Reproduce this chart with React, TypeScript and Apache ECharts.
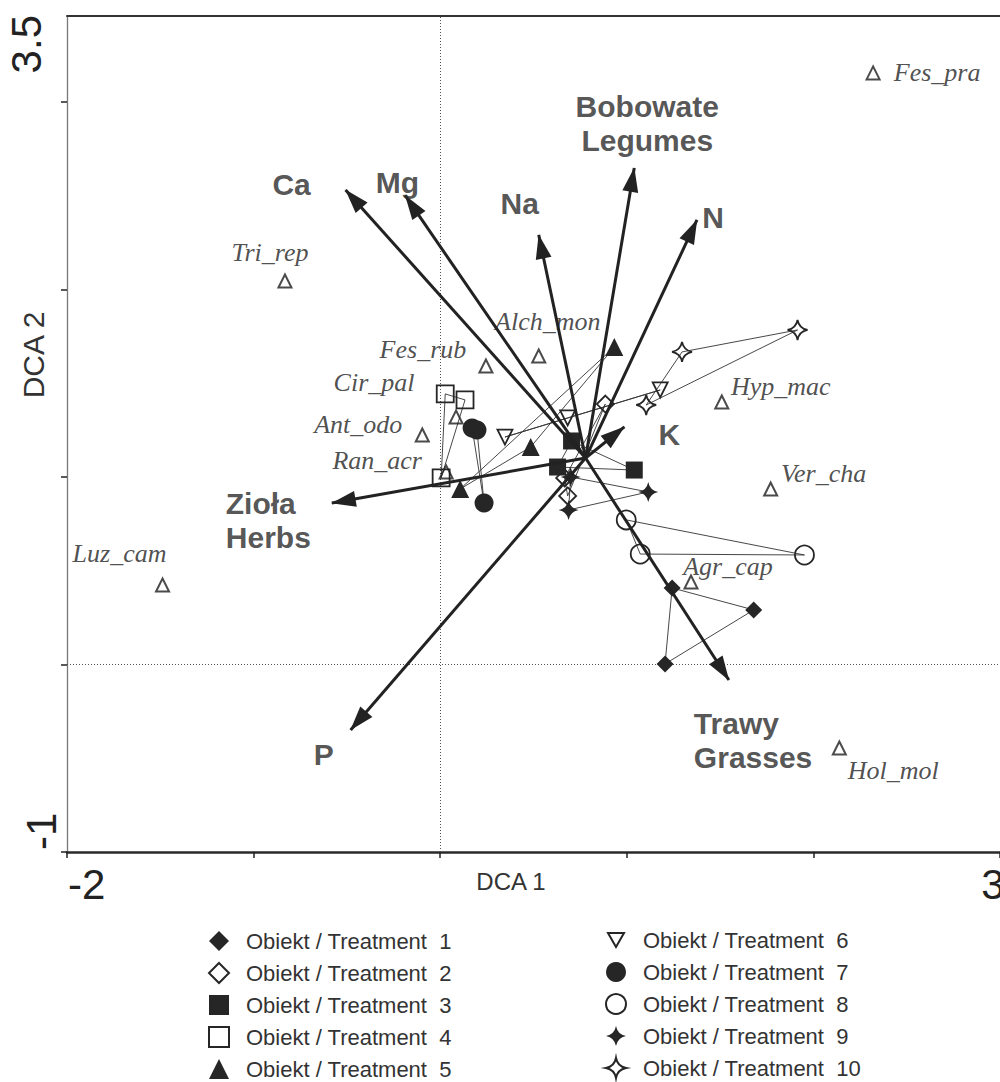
import React, { useEffect, useRef } from 'react';
import * as echarts from 'echarts';

// ---------- axes ----------
const X_RANGE = [-2, 3];
const Y_RANGE = [-1, 3.46];
const xTickValues = [-2, -1, 0, 1, 2, 3];
const yTickValues = [-1, 0, 1, 2, 3];
const xEndLabels = ['-2', '3'];
const yEndLabels = ['-1', '3.5'];
const xAxisName = 'DCA 1';
const yAxisName = 'DCA 2';

// ---------- treatments (sample scores) ----------
const treatmentNames = [
  'Obiekt / Treatment  1',
  'Obiekt / Treatment  2',
  'Obiekt / Treatment  3',
  'Obiekt / Treatment  4',
  'Obiekt / Treatment  5',
  'Obiekt / Treatment  6',
  'Obiekt / Treatment  7',
  'Obiekt / Treatment  8',
  'Obiekt / Treatment  9',
  'Obiekt / Treatment  10',
];
const t1 = [[1.243, 0.408], [1.68, 0.291], [1.205, 0.003]];
const t2 = [[0.885, 1.389], [0.667, 0.995], [0.683, 0.899]];
const t3 = [[0.704, 1.192], [0.629, 1.053], [1.04, 1.037]];
const t4 = [[0.027, 1.443], [0.133, 1.411], [0.005, 0.995]];
const t5 = [[0.933, 1.693], [0.485, 1.16], [0.107, 0.936]];
const t6 = [[0.683, 1.315], [0.347, 1.213], [1.179, 1.464]];
const t7 = [[0.171, 1.261], [0.197, 1.251], [0.235, 0.861]];
const t8 = [[0.997, 0.771], [1.072, 0.589], [1.952, 0.584]];
const t9 = [[0.699, 1.0], [1.115, 0.92], [0.688, 0.824]];
const t10 = [[1.915, 1.784], [1.296, 1.667], [1.104, 1.384]];
const treatments = [t1, t2, t3, t4, t5, t6, t7, t8, t9, t10];

// ---------- species scores ----------
const speciesNames = ['Fes_pra', 'Tri_rep', 'Fes_rub', 'Alch_mon', 'Cir_pal', 'Ant_odo', 'Ran_acr', 'Hyp_mac', 'Ver_cha', 'Agr_cap', 'Luz_cam', 'Hol_mol'];
const speciesX = [2.32, -0.832, 0.245, 0.528, 0.085, -0.096, 0.032, 1.509, 1.771, 1.344, -1.488, 2.139];
const speciesY = [3.155, 2.045, 1.592, 1.645, 1.32, 1.224, 1.027, 1.4, 0.936, 0.44, 0.424, -0.445];

// ---------- vectors (environment / functional groups) ----------
const vectorOrigin = [0.779, 1.101];
const vectorNames = ['Ca', 'Mg', 'Na', 'Bobowate\nLegumes', 'N', 'K', 'Zioła\nHerbs', 'P', 'Trawy\nGrasses'];
const vectorX = [-0.507, -0.187, 0.528, 1.04, 1.376, 0.987, -0.581, -0.48, 1.547];
const vectorY = [2.531, 2.5, 2.291, 2.648, 2.371, 1.267, 0.861, -0.349, -0.083];

// ---------- styling ----------
const SANS = '"Liberation Sans", Arial, Helvetica, sans-serif';
const SERIF = '"Liberation Serif", "Times New Roman", serif';
const INK = '#262626';
const G = { left: 67, top: 15.7, right: 1004.5, bottom: 852 };

const STAR = 'path://M0,-10 Q1.6,-1.6 10,0 Q1.6,1.6 0,10 Q-1.6,1.6 -10,0 Q-1.6,-1.6 0,-10 Z';
const ARROW = 'path://M-24,0 M24,48 M0,24 L8,49 L-8,49 Z';
const INVERTED_TRIANGLE_ICON = 'path://M-10,-10 M10,10 M-8,-7 L8,-7 L0,7 Z';

const treatmentStyles = [
  { symbol: 'diamond', size: 17, hollow: false, rotate: 0, icon: '' },
  { symbol: 'diamond', size: 17, hollow: true, rotate: 0, icon: '' },
  { symbol: 'rect', size: 17, hollow: false, rotate: 0, icon: '' },
  { symbol: 'rect', size: 17, hollow: true, rotate: 0, icon: '' },
  { symbol: 'triangle', size: 18, hollow: false, rotate: 0, icon: '' },
  { symbol: 'triangle', size: 15, hollow: true, rotate: 180, icon: INVERTED_TRIANGLE_ICON },
  { symbol: 'circle', size: 19, hollow: false, rotate: 0, icon: '' },
  { symbol: 'circle', size: 19, hollow: true, rotate: 0, icon: '' },
  { symbol: STAR, size: 20, hollow: false, rotate: 0, icon: '' },
  { symbol: STAR, size: 20, hollow: true, rotate: 0, icon: '' },
];

const speciesLabelOffset = [
  [64, 0], [-15, -29], [-63, -16], [9, -35], [-82, -34], [-64, -10],
  [-69, -11], [59, -15], [53, -15], [37, -15], [-43, -31], [54, 23],
];

const vectorLabelStyle = [
  { offset: [-54, -5], align: 'center' },
  { offset: [-8, -13], align: 'center' },
  { offset: [-19, -31], align: 'center' },
  { offset: [13, -44], align: 'center' },
  { offset: [16, -2], align: 'center' },
  { offset: [45, 8], align: 'center' },
  { offset: [-106, 17], align: 'left' },
  { offset: [-27, 25], align: 'center' },
  { offset: [-35, 60], align: 'left' },
];

function buildOption() {
  const connectorData: any[] = [];
  treatments.forEach((pts) => {
    for (let i = 0; i < pts.length; i++) {
      connectorData.push({ coords: [pts[i], pts[(i + 1) % pts.length]] });
    }
  });

  const treatmentSeries = treatments.map((pts, i) => {
    const st = treatmentStyles[i];
    return {
      type: 'scatter',
      name: treatmentNames[i],
      data: pts,
      symbol: st.symbol,
      symbolSize: st.size,
      symbolRotate: st.rotate,
      z: 4,
      itemStyle: st.hollow
        ? { color: 'rgba(255,255,255,0)', borderColor: INK, borderWidth: 1.8, opacity: 1 }
        : { color: INK, borderWidth: 0, opacity: 1 },
      emphasis: { disabled: true },
    };
  });

  const legendItems = treatmentNames.map((n, i) =>
    treatmentStyles[i].icon ? { name: n, icon: treatmentStyles[i].icon } : { name: n }
  );

  const speciesData = speciesNames.map((n, i) => ({
    name: n,
    value: [speciesX[i], speciesY[i]],
    label: { offset: speciesLabelOffset[i] },
  }));

  const vectorLines = vectorNames.map((n, i) => ({
    name: n,
    coords: [vectorOrigin, [vectorX[i], vectorY[i]]],
  }));

  const vectorLabelData = vectorNames.map((n, i) => ({
    name: n,
    value: [vectorX[i], vectorY[i]],
    label: { offset: vectorLabelStyle[i].offset, align: vectorLabelStyle[i].align },
  }));

  const legendCommon = {
    orient: 'vertical',
    itemWidth: 20,
    itemHeight: 20,
    itemGap: 10,
    height: 190,
    selectedMode: false,
    padding: 0,
    textStyle: {
      fontFamily: SANS,
      fontSize: 22,
      color: '#333',
      padding: [0, 0, 0, 12],
    },
  };

  const endLabelFont = `42px ${SANS}`;

  return {
    animation: false,
    backgroundColor: '#ffffff',
    grid: { left: G.left, top: G.top, right: 1000 - G.right, bottom: 1082 - G.bottom, containLabel: false },
    xAxis: [
      {
        type: 'value',
        position: 'bottom',
        min: X_RANGE[0],
        max: X_RANGE[1],
        interval: 1,
        axisLine: { show: true, onZero: false, lineStyle: { color: '#2a2a2a', width: 2.5 } },
        axisTick: { show: true, length: 6, customValues: xTickValues, lineStyle: { color: '#222', width: 1.5 } },
        axisLabel: { show: false },
        splitLine: { show: false },
      },
      {
        type: 'value',
        position: 'top',
        min: X_RANGE[0],
        max: X_RANGE[1],
        interval: 1,
        axisLine: { show: true, onZero: false, lineStyle: { color: '#333', width: 2 } },
        axisTick: { show: false },
        axisLabel: { show: false },
        splitLine: { show: false },
      },
    ],
    yAxis: [
      {
        type: 'value',
        position: 'left',
        min: Y_RANGE[0],
        max: Y_RANGE[1],
        interval: 1,
        axisLine: { show: true, onZero: false, lineStyle: { color: '#777', width: 1.3 } },
        axisTick: { show: true, length: 6, customValues: yTickValues, lineStyle: { color: '#222', width: 1.5 } },
        axisLabel: { show: false },
        splitLine: { show: false },
      },
    ],
    legend: [
      { ...legendCommon, left: 208, top: 930, data: legendItems.slice(0, 5) },
      { ...legendCommon, left: 605, top: 929, data: legendItems.slice(5) },
    ],
    graphic: [
      { type: 'text', x: G.left + 1, y: 884, silent: true, style: { text: xEndLabels[0], font: endLabelFont, fill: '#222', align: 'left', verticalAlign: 'middle' } },
      { type: 'text', x: G.right, y: 884, silent: true, style: { text: xEndLabels[1], font: endLabelFont, fill: '#222', align: 'right', verticalAlign: 'middle' } },
      { type: 'text', x: 41.5, y: 850, rotation: Math.PI / 2, silent: true, style: { text: yEndLabels[0], font: endLabelFont, fill: '#222', align: 'left', verticalAlign: 'middle' } },
      { type: 'text', x: 26, y: 15, rotation: Math.PI / 2, silent: true, style: { text: yEndLabels[1], font: endLabelFont, fill: '#222', align: 'right', verticalAlign: 'middle' } },
      { type: 'text', x: 511, y: 881, silent: true, style: { text: xAxisName, font: `24px ${SANS}`, fill: '#333', align: 'center', verticalAlign: 'middle' } },
      { type: 'text', x: 33, y: 355, rotation: Math.PI / 2, silent: true, style: { text: yAxisName, font: `30px ${SANS}`, fill: '#333', align: 'center', verticalAlign: 'middle' } },
    ],
    series: [
      {
        type: 'lines',
        name: 'connectors',
        coordinateSystem: 'cartesian2d',
        xAxisIndex: 0,
        yAxisIndex: 0,
        z: 2,
        symbol: ['none', 'none'],
        lineStyle: { color: '#333', width: 0.9, opacity: 1 },
        data: connectorData,
        emphasis: { disabled: true },
        silent: true,
      },
      ...treatmentSeries,
      {
        type: 'scatter',
        name: 'species',
        data: speciesData,
        symbol: 'triangle',
        symbolSize: 13,
        z: 5,
        itemStyle: { color: 'rgba(255,255,255,0)', borderColor: '#1e1e1e', borderWidth: 2 },
        label: {
          show: true,
          position: 'inside',
          formatter: (p: any) => p.name,
          fontFamily: SERIF,
          fontStyle: 'italic',
          fontSize: 26,
          color: '#222',
        },
        emphasis: { disabled: true },
        silent: true,
        markLine: {
          silent: true,
          symbol: ['none', 'none'],
          label: { show: false },
          lineStyle: { type: [1, 2], color: '#555', width: 1 },
          data: [{ xAxis: 0 }, { yAxis: 0 }],
          z: 1,
        },
      },
      {
        type: 'lines',
        name: 'vectors',
        coordinateSystem: 'cartesian2d',
        z: 6,
        symbol: ['none', ARROW],
        symbolSize: [0, 48],
        lineStyle: { color: '#222', width: 3, opacity: 1 },
        data: vectorLines,
        emphasis: { disabled: true },
        silent: true,
      },
      {
        type: 'scatter',
        name: 'vectorLabels',
        data: vectorLabelData,
        symbolSize: 0,
        z: 7,
        itemStyle: { color: 'rgba(0,0,0,0)' },
        label: {
          show: true,
          position: 'inside',
          formatter: (p: any) => p.name,
          fontFamily: SANS,
          fontWeight: 'bold',
          fontSize: 30,
          lineHeight: 34,
          color: '#2a2a2a',
        },
        emphasis: { disabled: true },
        silent: true,
      },
    ],
  };
}

export default function App() {
  const ref = useRef<HTMLDivElement>(null);
  useEffect(() => {
    if (!ref.current) return;
    const chart = echarts.init(ref.current, null, { renderer: 'svg' });
    chart.setOption(buildOption() as any);
    return () => chart.dispose();
  }, []);
  return (
    <div
      ref={ref}
      style={{ position: 'fixed', left: 0, top: 0, width: 1000, height: 1082, background: '#fff' }}
    />
  );
}
